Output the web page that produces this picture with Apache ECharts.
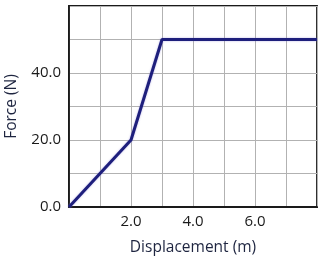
<!DOCTYPE html>
<html><head><meta charset="utf-8">
<script src="https://cdn.jsdelivr.net/npm/echarts@6/dist/echarts.min.js"></script>
<style>html,body{margin:0;padding:0;background:#fff}#c{width:323px;height:258px}</style>
</head><body><div id="c"></div>
<script>
var displacement = [0, 2, 3, 8];
var force = [0, 20, 50, 50];
var xTickLabels = [2, 4, 6];
var yTickLabels = [0, 20, 40];
var xName = 'Displacement (m)';
var yName = 'Force (N)';

var chart = echarts.init(document.getElementById('c'), null, {renderer: 'canvas'});
var font = 'Open Sans';
chart.setOption({
  animation: false,
  grid: {left: 69, right: 6, top: 6, bottom: 51, containLabel: false, outerBoundsMode: 'none',
    show: true, borderColor: '#1a1a1a', borderWidth: 1.8, backgroundColor: 'transparent'},
  xAxis: {
    type: 'value', min: 0, max: 8, interval: 1,
    name: xName, nameLocation: 'middle', nameGap: 33,
    nameTextStyle: {fontFamily: font, fontSize: 15.5, color: '#1e2540'},
    axisLine: {show: true, lineStyle: {color: '#1a1a1a', width: 1.8}},
    axisTick: {show: false},
    axisLabel: {fontFamily: font, fontSize: 15, color: '#1a1a1a', margin: 7,
      formatter: function (v) { return xTickLabels.indexOf(v) >= 0 ? v.toFixed(1) : ''; }},
    splitLine: {show: true, lineStyle: {color: '#b2b2b2', width: 1}}
  },
  yAxis: {
    type: 'value', min: 0, max: 60, interval: 10,
    name: yName, nameLocation: 'middle', nameGap: 49, nameRotate: 90,
    nameTextStyle: {fontFamily: font, fontSize: 15.5, color: '#1e2540'},
    axisLine: {show: true, lineStyle: {color: '#1a1a1a', width: 1.8}},
    axisTick: {show: false},
    axisLabel: {fontFamily: font, fontSize: 15, color: '#1a1a1a', margin: 8,
      formatter: function (v) { return yTickLabels.indexOf(v) >= 0 ? v.toFixed(1) : ''; }},
    splitLine: {show: true, lineStyle: {color: '#b2b2b2', width: 1}}
  },
  series: [{
    type: 'line',
    data: displacement.map(function (x, i) { return [x, force[i]]; }),
    symbol: 'none',
    lineStyle: {color: '#1e1f7c', width: 3, shadowColor: 'rgba(130,120,210,0.6)', shadowBlur: 2}
  }]
});
</script></body></html>
